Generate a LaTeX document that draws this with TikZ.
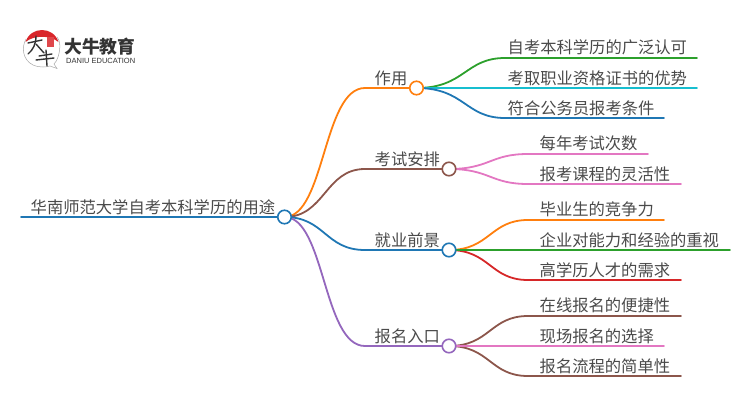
\documentclass[tikz,border=0pt]{standalone}
\usepackage{fontspec}
\setmainfont{Noto Sans CJK SC}
\newfontfamily\latinlogo{Liberation Sans}
\usetikzlibrary{backgrounds}
\definecolor{cOrange}{HTML}{FF7F0E}
\definecolor{cBrown}{HTML}{8C564B}
\definecolor{cBlue}{HTML}{1F77B4}
\definecolor{cPurple}{HTML}{9467BD}
\definecolor{cGreen}{HTML}{2CA02C}
\definecolor{cCyan}{HTML}{17BECF}
\definecolor{cPink}{HTML}{E377C2}
\definecolor{cRed}{HTML}{D62728}
\definecolor{cText}{HTML}{4A4A4A}
\definecolor{cLogo}{HTML}{333333}
\definecolor{cCap}{HTML}{D9262B}
\tikzset{
  x=1pt,y=-1pt,
  label text/.style={anchor=base west,inner sep=0pt,text=cText,font=\fontsize{16.3}{16}\selectfont},
  hub/.style={circle,draw=#1,fill=white,line width=1.6pt,minimum size=13.5pt,inner sep=0pt},
  edge line/.style={line width=1.8pt,line cap=round,draw=#1},
}
\begin{document}
\begin{tikzpicture}
\useasboundingbox (0,0) rectangle (750,410);
% hubs
\node[hub=cBlue] (root) at (284.5,217) {};
\node[hub=cOrange] (zy) at (416.5,88) {};
\node[hub=cBrown] (ks) at (449,169) {};
\node[hub=cBlue] (jy) at (449,250) {};
\node[hub=cPurple] (bm) at (449,346) {};
% free ends
\coordinate (rootL) at (21,217);
\foreach \n/\x/\y in {zyE/365/88,ksE/365/169,jyE/365/250,bmE/365/346,
  a1/505/58,a1e/697/58,a2e/697/88,a3/505/118,a3e/664/118,
  b1/528/154,b1e/648/154,b2/528/184,b2e/681/184,
  c1/528/220,c1e/664/220,c2e/730/250,c3/528/280,c3e/681/280,
  d1/528/316,d1e/681/316,d2e/664/346,d3/528/376,d3e/681/376}
  {\coordinate (\n) at (\x,\y);}
% texts
\node[label text] (troot) at (30.5,213.5) {华南师范大学自考本科学历的用途};
\node[label text] (tzy) at (374.5,84.5) {作用};
\node[label text] (tks) at (374.5,165.5) {考试安排};
\node[label text] (tjy) at (374.5,246.5) {就业前景};
\node[label text] (tbm) at (374.5,342.5) {报名入口};
\node[label text] (ta1) at (507.5,53.5) {自考本科学历的广泛认可};
\node[label text] (ta2) at (507.5,84) {考取职业资格证书的优势};
\node[label text] (ta3) at (507.5,114) {符合公务员报考条件};
\node[label text] (tb1) at (539.5,149.5) {每年考试次数};
\node[label text] (tb2) at (539.5,180) {报考课程的灵活性};
\node[label text] (tc1) at (539.5,215.5) {毕业生的竞争力};
\node[label text] (tc2) at (539.5,246) {企业对能力和经验的重视};
\node[label text] (tc3) at (539.5,276) {高学历人才的需求};
\node[label text] (td1) at (539.5,311.5) {在线报名的便捷性};
\node[label text] (td2) at (539.5,342) {现场报名的选择};
\node[label text] (td3) at (539.5,372) {报名流程的简单性};
% connectors
\begin{scope}[on background layer]
\draw[edge line=cBlue] (rootL) -- (root.center);
\draw[edge line=cOrange] (root.center) .. controls (325,217) and (323,88) .. (zyE) -- (zy.center);
\draw[edge line=cBrown] (root.center) .. controls (325,217) and (325,169) .. (ksE) -- (ks.center);
\draw[edge line=cBlue] (root.center) .. controls (325,217) and (325,250) .. (jyE) -- (jy.center);
\draw[edge line=cPurple] (root.center) .. controls (325,217) and (323,346) .. (bmE) -- (bm.center);
\draw[edge line=cGreen] (zy.center) .. controls (465,88) and (465,58) .. (a1) -- (a1e);
\draw[edge line=cCyan] (zy.center) -- (a2e);
\draw[edge line=cBlue] (zy.center) .. controls (465,88) and (465,118) .. (a3) -- (a3e);
\draw[edge line=cPink] (ks.center) .. controls (490,169) and (490,154) .. (b1) -- (b1e);
\draw[edge line=cPink] (ks.center) .. controls (490,169) and (490,184) .. (b2) -- (b2e);
\draw[edge line=cOrange] (jy.center) .. controls (490,250) and (490,220) .. (c1) -- (c1e);
\draw[edge line=cRed] (jy.center) .. controls (490,250) and (490,280) .. (c3) -- (c3e);
\draw[edge line=cGreen] (jy.center) -- (c2e);
\draw[edge line=cBrown] (bm.center) .. controls (490,346) and (490,316) .. (d1) -- (d1e);
\draw[edge line=cBrown] (bm.center) .. controls (490,346) and (490,376) .. (d3) -- (d3e);
\draw[edge line=cPink] (bm.center) -- (d2e);
\end{scope}
% logo
\begin{scope}
\fill[cCap] (25.5,42) .. controls (28,34) and (35,30) .. (42,30) .. controls (49,30) and (56,34) .. (58.5,42) .. controls (50,35) and (34,35) .. (25.5,42) -- cycle;
\draw[line width=.5pt,draw=black!35] (58,57) .. controls (61,48) and (60,40) .. (57,37);
\draw[line width=.5pt,draw=black!35] (26,39) .. controls (21,48) and (23,60) .. (33,65) .. controls (40,68) and (47,67) .. (50,66) -- (57,68.5) -- (54,64) .. controls (56,62) and (57,60) .. (58,57);
\fill[cCap!85!white] (47,37) rectangle (54,47);
\draw[line width=1.4pt,draw=cLogo,line cap=round] (28,43) -- (42,40);
\draw[line width=1.4pt,draw=cLogo,line cap=round] (36,36) .. controls (36,44) and (33,50) .. (28,54);
\draw[line width=1.4pt,draw=cLogo,line cap=round] (36,44) -- (44,53);
\draw[line width=1.4pt,draw=cLogo,line cap=round] (39,56) -- (52,54);
\draw[line width=1.4pt,draw=cLogo,line cap=round] (36,60) -- (54,58);
\draw[line width=1.4pt,draw=cLogo,line cap=round] (46,50) -- (47,66);
\end{scope}
\node[anchor=base west,inner sep=0pt,text=cLogo,font=\fontsize{17.8}{18}\selectfont\bfseries] (logoa) at (64,53.5) {大牛教育};
\node[anchor=base west,inner sep=0pt,text=cLogo,font=\latinlogo\fontsize{7.5}{8}\selectfont] (logob) at (66,63) {DANIU EDUCATION};
\end{tikzpicture}
\end{document}
